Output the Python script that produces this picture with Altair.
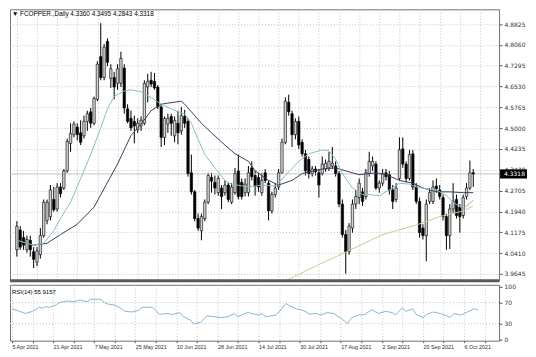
import json
import altair as alt
import pandas as pd

# ---------------- data ----------------
title_text = "\u25BC FCOPPER.,Daily  4.3360 4.3495 4.2843 4.3318"
rsi_title = "RSI(14) 55.9157"
last_price = 4.3318

date_labels = ["5 Apr 2021", "21 Apr 2021", "7 May 2021", "25 May 2021", "10 Jun 2021",
               "28 Jun 2021", "14 Jul 2021", "30 Jul 2021", "17 Aug 2021", "2 Sep 2021",
               "20 Sep 2021", "6 Oct 2021"]
label_bars = [0, 12, 24, 36, 48, 60, 72, 84, 96, 108, 120, 132]
grid_bars = [0, 6, 12, 18, 24, 30, 36, 42, 48, 54, 60, 66, 72, 78, 84, 90, 96, 102, 108,
             114, 120, 126, 132, 138]
price_ticks = [3.9645, 4.0410, 4.1175, 4.1940, 4.2705, 4.3470, 4.4235, 4.5000, 4.5765,
               4.6530, 4.7295, 4.8060, 4.8825]
rsi_ticks = [0, 30, 70, 100]
rsi_levels = [30, 70]

opens = [4.053, 4.126, 4.098, 4.053, 4.088, 4.046, 4.007, 4.035, 4.105, 4.161,
         4.175, 4.238, 4.203, 4.284, 4.280, 4.343, 4.444, 4.476, 4.504, 4.483,
         4.472, 4.525, 4.560, 4.518, 4.606, 4.763, 4.686, 4.819, 4.683, 4.686,
         4.665, 4.665, 4.721, 4.571, 4.536, 4.525, 4.494, 4.508, 4.518, 4.651,
         4.676, 4.672, 4.651, 4.578, 4.466, 4.515, 4.543, 4.472, 4.518, 4.490,
         4.543, 4.525, 4.336, 4.266, 4.168, 4.123, 4.168, 4.228, 4.319, 4.301,
         4.263, 4.280, 4.263, 4.291, 4.228, 4.263, 4.343, 4.301, 4.263, 4.263,
         4.354, 4.326, 4.319, 4.263, 4.336, 4.298, 4.196, 4.256, 4.284, 4.336,
         4.448, 4.595, 4.553, 4.476, 4.525, 4.448, 4.406, 4.385, 4.333, 4.350,
         4.336, 4.333, 4.350, 4.354, 4.361, 4.361, 4.333, 4.221, 4.109, 4.046,
         4.133, 4.221, 4.245, 4.266, 4.249, 4.333, 4.361, 4.368, 4.280, 4.298,
         4.336, 4.329, 4.273, 4.238, 4.315, 4.424, 4.368, 4.315, 4.406, 4.284,
         4.231, 4.133, 4.105, 4.231, 4.231, 4.287, 4.273, 4.245, 4.175, 4.105,
         4.203, 4.238, 4.210, 4.179, 4.249, 4.280, 4.3360]
highs = [4.158, 4.140, 4.122, 4.105, 4.105, 4.063, 4.063, 4.133, 4.238, 4.238,
         4.291, 4.284, 4.298, 4.298, 4.350, 4.462, 4.518, 4.525, 4.518, 4.529,
         4.546, 4.564, 4.574, 4.616, 4.746, 4.886, 4.809, 4.830, 4.735, 4.707,
         4.735, 4.781, 4.735, 4.588, 4.564, 4.546, 4.536, 4.543, 4.676, 4.700,
         4.707, 4.703, 4.658, 4.588, 4.543, 4.553, 4.553, 4.543, 4.564, 4.578,
         4.567, 4.536, 4.403, 4.273, 4.186, 4.186, 4.238, 4.336, 4.336, 4.326,
         4.326, 4.291, 4.308, 4.301, 4.298, 4.354, 4.403, 4.315, 4.315, 4.361,
         4.378, 4.343, 4.336, 4.336, 4.350, 4.308, 4.266, 4.298, 4.350, 4.462,
         4.613, 4.623, 4.564, 4.536, 4.543, 4.459, 4.420, 4.396, 4.361, 4.361,
         4.350, 4.396, 4.385, 4.413, 4.431, 4.378, 4.343, 4.238, 4.126, 4.151,
         4.238, 4.273, 4.315, 4.280, 4.350, 4.413, 4.396, 4.378, 4.308, 4.350,
         4.350, 4.343, 4.291, 4.298, 4.466, 4.466, 4.378, 4.420, 4.420, 4.298,
         4.245, 4.147, 4.238, 4.280, 4.308, 4.315, 4.291, 4.256, 4.186, 4.221,
         4.298, 4.256, 4.221, 4.256, 4.298, 4.381, 4.3495]
lows = [4.028, 4.053, 4.053, 4.042, 4.028, 3.986, 3.993, 4.021, 4.098, 4.147,
        4.161, 4.193, 4.193, 4.245, 4.273, 4.336, 4.413, 4.466, 4.455, 4.438,
        4.462, 4.490, 4.501, 4.511, 4.599, 4.676, 4.676, 4.728, 4.648, 4.606,
        4.641, 4.651, 4.553, 4.518, 4.490, 4.444, 4.483, 4.490, 4.511, 4.595,
        4.651, 4.641, 4.571, 4.431, 4.438, 4.483, 4.472, 4.448, 4.441, 4.476,
        4.501, 4.322, 4.256, 4.158, 4.123, 4.088, 4.158, 4.221, 4.263, 4.256,
        4.252, 4.203, 4.252, 4.228, 4.221, 4.256, 4.238, 4.238, 4.249, 4.249,
        4.308, 4.252, 4.266, 4.252, 4.298, 4.161, 4.186, 4.245, 4.273, 4.333,
        4.441, 4.546, 4.431, 4.459, 4.424, 4.396, 4.326, 4.315, 4.322, 4.326,
        4.245, 4.326, 4.340, 4.343, 4.350, 4.322, 4.210, 4.098, 3.965, 4.035,
        4.116, 4.203, 4.221, 4.214, 4.238, 4.322, 4.343, 4.273, 4.263, 4.287,
        4.308, 4.256, 4.203, 4.228, 4.308, 4.354, 4.301, 4.308, 4.273, 4.221,
        4.098, 4.091, 4.011, 4.221, 4.221, 4.263, 4.238, 4.161, 4.053, 4.056,
        4.189, 4.168, 4.116, 4.168, 4.238, 4.273, 4.2843]
closes = [4.140, 4.063, 4.070, 4.091, 4.053, 4.018, 4.049, 4.105, 4.228, 4.228,
          4.273, 4.200, 4.284, 4.259, 4.343, 4.451, 4.480, 4.515, 4.476, 4.448,
          4.525, 4.553, 4.518, 4.609, 4.735, 4.686, 4.798, 4.742, 4.718, 4.651,
          4.718, 4.756, 4.574, 4.525, 4.501, 4.508, 4.518, 4.529, 4.665, 4.672,
          4.662, 4.648, 4.578, 4.466, 4.536, 4.536, 4.518, 4.529, 4.483, 4.546,
          4.518, 4.333, 4.266, 4.168, 4.133, 4.175, 4.228, 4.326, 4.305, 4.280,
          4.315, 4.249, 4.291, 4.238, 4.284, 4.333, 4.249, 4.249, 4.294, 4.336,
          4.322, 4.287, 4.284, 4.308, 4.308, 4.196, 4.256, 4.280, 4.336, 4.448,
          4.599, 4.560, 4.476, 4.525, 4.438, 4.406, 4.343, 4.333, 4.350, 4.340,
          4.291, 4.368, 4.371, 4.378, 4.371, 4.333, 4.221, 4.109, 4.046, 4.140,
          4.221, 4.249, 4.298, 4.231, 4.336, 4.378, 4.378, 4.280, 4.298, 4.333,
          4.322, 4.273, 4.231, 4.280, 4.420, 4.368, 4.315, 4.403, 4.284, 4.231,
          4.116, 4.105, 4.221, 4.263, 4.284, 4.277, 4.249, 4.175, 4.105, 4.203,
          4.231, 4.179, 4.175, 4.245, 4.280, 4.336, 4.3318]

fast_bars = [0, 5, 8, 11, 13, 16, 19, 22, 25, 27, 29, 32, 34, 37, 40, 43, 46, 48, 50, 52,
             54, 56, 59, 62, 64, 69, 73, 77, 80, 84, 87, 91, 93, 95, 97, 100, 103, 105,
             108, 111, 114, 117, 119, 122, 125, 128, 130, 133, 134, 136]
fast_vals = [4.088, 4.070, 4.077, 4.123, 4.168, 4.228, 4.315, 4.403, 4.501, 4.571,
             4.616, 4.637, 4.641, 4.634, 4.613, 4.588, 4.571, 4.560, 4.553, 4.518,
             4.459, 4.403, 4.354, 4.308, 4.294, 4.284, 4.291, 4.287, 4.326, 4.378,
             4.406, 4.420, 4.417, 4.385, 4.333, 4.280, 4.256, 4.256, 4.252, 4.273,
             4.298, 4.294, 4.284, 4.277, 4.273, 4.252, 4.228, 4.203, 4.214, 4.235]

slow_bars = [0, 5, 9, 13, 18, 23, 27, 30, 34, 37, 40, 43, 45, 49, 50, 52, 55, 58, 62, 65,
             69, 71, 75, 78, 82, 85, 91, 95, 98, 102, 107, 110, 114, 118, 121, 125, 129,
             133, 136]
slow_vals = [4.088, 4.070, 4.077, 4.109, 4.147, 4.210, 4.301, 4.368, 4.473, 4.515,
             4.564, 4.588, 4.592, 4.599, 4.588, 4.560, 4.518, 4.483, 4.438, 4.406,
             4.378, 4.343, 4.308, 4.291, 4.308, 4.333, 4.350, 4.354, 4.343, 4.329,
             4.336, 4.329, 4.308, 4.298, 4.280, 4.266, 4.266, 4.263, 4.263]

long_bars = [75, 79, 89, 100, 109, 119, 126, 133, 136]
long_vals = [3.909, 3.933, 3.993, 4.056, 4.109, 4.144, 4.175, 4.196, 4.214]

rsi_bars = [0, 2, 4, 6, 8, 9, 10, 11, 13, 14, 16, 18, 20, 22, 23, 25, 26, 27, 28, 30,
            32, 33, 35, 37, 38, 41, 42, 43, 45, 47, 49, 50, 52, 53, 55, 57, 59, 61, 63,
            65, 66, 68, 69, 72, 73, 74, 77, 78, 80, 81, 83, 85, 87, 89, 90, 92, 94, 96,
            98, 99, 101, 103, 105, 107, 109, 111, 112, 114, 115, 117, 118, 120, 121,
            123, 125, 128, 129, 131, 133, 135, 136]
rsi_vals = [58.2, 53.9, 49.2, 53.3, 61.0, 59.2, 62.3, 61.0, 65.9, 70.0, 73.0, 71.3, 74.8,
            71.3, 76.1, 76.1, 76.1, 70.0, 67.1, 65.3, 58.2, 53.3, 52.1, 55.1, 61.0, 61.0,
            55.1, 47.4, 49.2, 47.4, 51.0, 43.1, 37.2, 29.5, 32.4, 44.9, 43.1, 41.3, 43.1,
            49.2, 43.1, 49.2, 51.0, 46.2, 49.2, 43.0, 46.2, 52.1, 68.2, 64.1, 58.2, 55.1,
            48.0, 49.2, 46.2, 51.0, 49.2, 40.3, 30.0, 40.3, 46.2, 47.4, 56.4, 49.2, 53.3,
            51.0, 46.2, 60.0, 53.3, 58.2, 47.4, 41.3, 47.4, 52.1, 49.2, 42.0, 49.2, 46.2,
            52.1, 58.2, 55.9]

# ---------------- layout ----------------
W, H1, H2 = 490, 272, 56
FONT = "Liberation Sans"
AXFONT = "DejaVu Sans"
GRID = "#c4c4c4"

xscale = alt.Scale(domain=[-0.56, 142.2], nice=False, zero=False)
yscale = alt.Scale(domain=[3.9391, 4.9367], nice=False, zero=False)
rscale = alt.Scale(domain=[-2.3, 103.6], nice=False, zero=False)

df = pd.DataFrame({"bar": list(range(len(opens))), "open": opens, "high": highs,
                   "low": lows, "close": closes})
df["dir"] = ["up" if c >= o else "down" for o, c in zip(opens, closes)]

fast_df = pd.DataFrame({"bar": fast_bars, "v": fast_vals})
slow_df = pd.DataFrame({"bar": slow_bars, "v": slow_vals})
long_df = pd.DataFrame({"bar": long_bars, "v": long_vals})
rsi_df = pd.DataFrame({"bar": rsi_bars, "v": rsi_vals})

x_main_axis = alt.Axis(values=grid_bars, labels=False, ticks=False, domain=False, grid=True,
                       gridDash=[1, 2], gridColor=GRID, title=None)
y_main_axis = alt.Axis(orient="right", values=price_ticks, format=".4f", grid=True,
                       gridDash=[1, 2], gridColor=GRID, tickSize=3, tickColor="#555",
                       labelFontSize=6, labelColor="#303030", labelFont=AXFONT,
                       labelPadding=2, domain=False, title=None, labelOverlap=False)


def mx(field="bar:Q"):
    return alt.X(field, scale=xscale, axis=x_main_axis)


def my(field):
    return alt.Y(field, scale=yscale, axis=y_main_axis)


bid_line = alt.Chart(pd.DataFrame({"p": [last_price]})).mark_rule(
    color="#b4b4b4", strokeWidth=0.8).encode(y=my("p:Q"))

wicks = alt.Chart(df).mark_rule(color="black", strokeWidth=1).encode(
    x=mx(), y=my("low:Q"), y2="high:Q")

bodies = alt.Chart(df).mark_bar(width=2.4, stroke="black", strokeWidth=0.6).encode(
    x=mx(), y=my("open:Q"), y2="close:Q",
    fill=alt.Fill("dir:N", scale=alt.Scale(domain=["up", "down"],
                                           range=["#d2d2d2", "#000000"]), legend=None))


def ma_line(frame, color):
    return alt.Chart(frame).mark_line(color=color, strokeWidth=1, clip=True).encode(
        x=mx(), y=my("v:Q"))


fast_line = ma_line(fast_df, "#86c0bb")
slow_line = ma_line(slow_df, "#3e3e5e")
long_line = ma_line(long_df, "#d8c2a2")

box_path = "M-1,-0.34L1,-0.34L1,0.34L-1,0.34Z"
price_box = alt.Chart(pd.DataFrame({"p": [last_price]})).mark_point(
    shape=box_path, size=729, filled=True, color="black", opacity=1).encode(
    x=alt.value(W + 14.5), y=my("p:Q"))
price_box_text = alt.Chart(pd.DataFrame({"p": [last_price], "t": [f"{last_price:.4f}"]})).mark_text(
    align="left", baseline="middle", fontSize=6, font=AXFONT, color="white").encode(
    x=alt.value(W + 5), y=my("p:Q"), text="t:N")

title_mark = alt.Chart(pd.DataFrame({"t": [title_text]})).mark_text(
    align="left", baseline="middle", fontSize=6.4, font=FONT, color="black").encode(
    x=alt.value(2), y=alt.value(5), text="t:N")

divider = alt.Chart(pd.DataFrame({"a": [0]})).mark_rule(color="#5a5a5a", strokeWidth=3).encode(
    x=alt.value(0), x2=alt.value(W), y=alt.value(H1))

main = alt.layer(wicks, bid_line, bodies, long_line, slow_line, fast_line,
                 title_mark, price_box, price_box_text, divider).properties(width=W, height=H1)

# ---------------- RSI panel ----------------
label_expr = ("datum.value % 12 == 0 ? " + json.dumps(date_labels) +
              "[datum.value / 12] : ''")
x_rsi_axis = alt.Axis(values=grid_bars, labelExpr=label_expr, grid=True, gridDash=[1, 2],
                      gridColor=GRID, tickSize=2, tickColor="#555", domain=False,
                      labelAlign="left", labelFlush=False, labelOverlap=False,
                      labelPadding=2, labelFontSize=5.4, labelFont=FONT,
                      labelColor="#303030", title=None)
y_rsi_axis = alt.Axis(orient="right", values=rsi_ticks, grid=False, tickSize=3,
                      tickColor="#555", labelFontSize=6, labelFont=AXFONT, labelColor="#303030",
                      labelPadding=2, domain=False, title=None, labelOverlap=False)

rsi_grid = alt.Chart(pd.DataFrame({"lv": rsi_levels})).mark_rule(
    color=GRID, strokeDash=[1, 2]).encode(
    y=alt.Y("lv:Q", scale=rscale, axis=y_rsi_axis))

rsi_line = alt.Chart(rsi_df).mark_line(color="#8db5cf", strokeWidth=1).encode(
    x=alt.X("bar:Q", scale=xscale, axis=x_rsi_axis),
    y=alt.Y("v:Q", scale=rscale, axis=y_rsi_axis))

rsi_title_mark = alt.Chart(pd.DataFrame({"t": [rsi_title]})).mark_text(
    align="left", baseline="middle", fontSize=6, font=FONT, color="black").encode(
    x=alt.value(2), y=alt.value(7), text="t:N")

rsi = alt.layer(rsi_grid, rsi_line, rsi_title_mark).properties(width=W, height=H2)

chart = alt.vconcat(main, rsi, spacing=0).properties(
    padding={"left": 0, "top": 0, "right": 0, "bottom": 0}, background="white"
).configure_view(stroke="#707070", strokeWidth=1)

chart.save("out.html", embed_options={"renderer": "svg", "actions": False})
